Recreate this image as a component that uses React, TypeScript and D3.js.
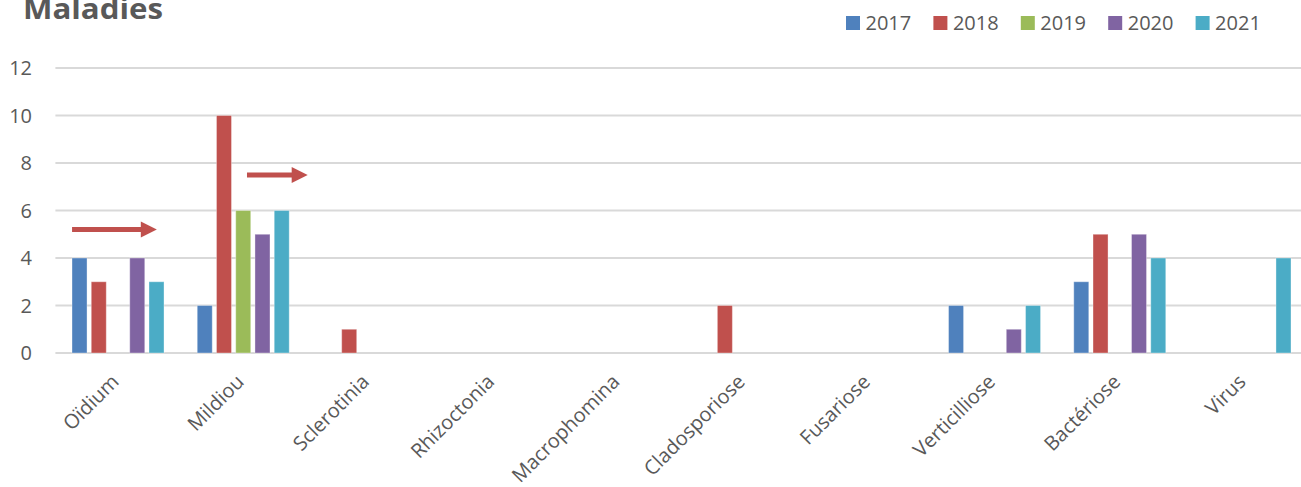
import React from "react";
import * as d3 from "d3";

const categories = ["Oïdium", "Mildiou", "Sclerotinia", "Rhizoctonia", "Macrophomina", "Cladosporiose", "Fusariose", "Verticilliose", "Bactériose", "Virus"];
const years = ["2017", "2018", "2019", "2020", "2021"];
const v2017 = [4, 2, 0, 0, 0, 0, 0, 2, 3, 0];
const v2018 = [3, 10, 1, 0, 0, 2, 0, 0, 5, 0];
const v2019 = [0, 6, 0, 0, 0, 0, 0, 0, 0, 0];
const v2020 = [4, 5, 0, 0, 0, 0, 0, 1, 5, 0];
const v2021 = [3, 6, 0, 0, 0, 0, 0, 2, 4, 4];
const seriesValues = [v2017, v2018, v2019, v2020, v2021];
const colors = ["#4F81BD", "#C0504D", "#9BBB59", "#8064A2", "#4BACC6"];
const yTicks = [0, 2, 4, 6, 8, 10, 12];
// annotation arrows: [category index start offset, end, y value]
const arrows = [
  { from: 0, fromOff: 0.133, to: 0, toOff: 0.81, y: 5.2 },
  { from: 1, fromOff: 0.53, to: 2, toOff: 0.015, y: 7.5 },
];

const FONT = "'Open Sans', 'Noto Sans', sans-serif";
const TEXT = "#595959";

export default function App() {
  const W = 1301, H = 487;
  const left = 55.4, right = 1307.6, top = 68, bottom = 353;
  const x0 = d3.scaleBand<string>().domain(categories).range([left, right]).padding(0);
  const groupW = 92;
  const x1 = d3.scaleBand<string>().domain(years).range([0, groupW]).paddingInner(0.22).paddingOuter(0);
  const y = d3.scaleLinear().domain([0, 12]).range([bottom, top]);
  const bw = x0.bandwidth();

  return (
    <svg width={W} height={H} style={{ position: "absolute", left: 0, top: 0, background: "#fff" }}>
      <text x={23} y={19} fontFamily={FONT} fontWeight={700} fontSize={28} fill={TEXT} textLength={140} lengthAdjust="spacingAndGlyphs">Maladies</text>
      {yTicks.map((t) => (
        <g key={t}>
          <line x1={left} x2={W} y1={y(t)} y2={y(t)} stroke="#D9D9D9" strokeWidth={2} />
          <text x={32} y={y(t)} dy="0.35em" textAnchor="end" fontFamily={FONT} fontSize={20} fill={TEXT}>{t}</text>
        </g>
      ))}
      {categories.map((c, ci) => {
        const gx = (x0(c) as number) + (bw - groupW) / 2;
        return (
          <g key={c}>
            {years.map((yr, si) => {
              const v = seriesValues[si][ci];
              if (!v) return null;
              return (
                <rect key={yr} x={gx + (x1(yr) as number)} y={y(v)} width={x1.bandwidth()} height={y(0) - y(v)}
                  fill={colors[si]} stroke="#ffffff" strokeOpacity={0.35} strokeWidth={1} />
              );
            })}
            <text transform={`translate(${(x0(c) as number) + bw / 2 + 2},${383}) rotate(-45)`} textAnchor="end"
              fontFamily={FONT} fontSize={20} fill={TEXT}>{c}</text>
          </g>
        );
      })}
      {arrows.map((a, i) => {
        const xs = (x0(categories[a.from]) as number) + bw * a.fromOff;
        const xe = (x0(categories[a.to]) as number) + bw * a.toOff;
        const yy = y(a.y);
        return (
          <g key={i}>
            <line x1={xs} x2={xe - 14} y1={yy} y2={yy} stroke="#C0504D" strokeWidth={5} />
            <path d={`M${xe},${yy} L${xe - 16},${yy - 8} L${xe - 16},${yy + 8} Z`} fill="#C0504D" />
          </g>
        );
      })}
      {years.map((yr, i) => (
        <g key={yr} transform={`translate(${846 + i * 87.4},16)`}>
          <rect x={0} y={0} width={14} height={14} fill={colors[i]} />
          <text x={19.5} y={14} fontFamily={FONT} fontSize={20} fill={TEXT}>{yr}</text>
        </g>
      ))}
    </svg>
  );
}
